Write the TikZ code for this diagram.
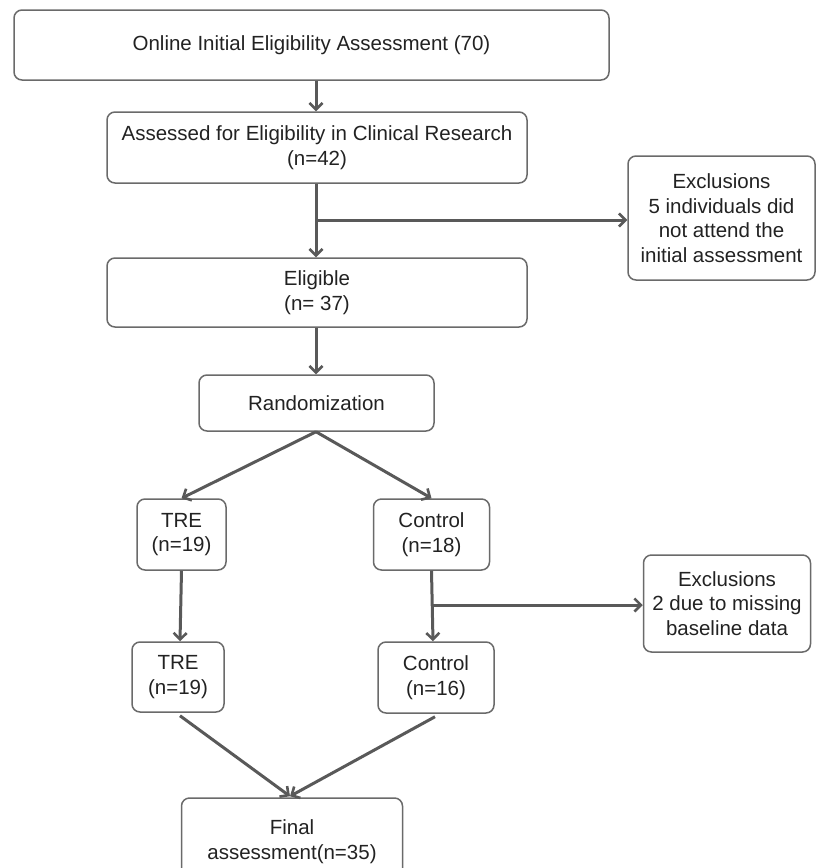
\documentclass[tikz,border=0pt]{standalone}
\usepackage{fontspec}
\setmainfont{Liberation Sans}
\usetikzlibrary{arrows.meta,calc}
\definecolor{linegray}{HTML}{595959}
\definecolor{boxgray}{HTML}{6A6A6A}
\definecolor{txt}{HTML}{222222}
\tikzset{
  box/.style={draw=boxgray, line width=1.5pt, rounded corners=8pt, inner sep=0pt,
    align=center, text=txt, font=\fontsize{20.5}{24.5}\selectfont},
  arr/.style={draw=linegray, line width=3pt, -{Straight Barb[length=6.5pt,width=13pt,line width=2.6pt]}}
}
\begin{document}
\begin{tikzpicture}[x=1pt,y=-1pt]
\useasboundingbox (0,0) rectangle (816,868);
\clip (0,0) rectangle (816,868);
\node[box, minimum width=595pt, minimum height=70pt] (top) at (311.5,45) {Online Initial Eligibility Assessment (70)};
\node[box, minimum width=420pt, minimum height=71pt] (assess) at (317,147.5) {Assessed for Eligibility in Clinical Research\\(n=42)};
\node[box, minimum width=187pt, minimum height=124pt] (excl1) at (721.5,218) {Exclusions\\5 individuals did\\not attend the\\initial assessment};
\node[box, minimum width=420pt, minimum height=69pt] (elig) at (317,292.5) {Eligible\\(n= 37)};
\node[box, minimum width=235pt, minimum height=56pt] (rand) at (316.5,403) {Randomization};
\node[box, minimum width=89pt, minimum height=71pt] (tre1) at (181.5,534.5) {TRE\\(n=19)};
\node[box, minimum width=116pt, minimum height=71pt] (ctl1) at (431.5,534.5) {Control\\(n=18)};
\node[box, minimum width=167pt, minimum height=97pt] (excl2) at (727,603.5) {Exclusions\\2 due to missing\\baseline data};
\node[box, minimum width=92pt, minimum height=70pt] (tre2) at (178,677) {TRE\\(n=19)};
\node[box, minimum width=116pt, minimum height=71pt] (ctl2) at (436,677.5) {Control\\(n=16)};
\node[box, minimum width=221pt, minimum height=80pt, text depth=0pt] (final) at (292,838) {\raisebox{12pt}{\begin{tabular}{@{}c@{}}Final\\[1pt]assessment(n=35)\end{tabular}}};
% connectors
\draw[arr] (top.south -| 316,0) -- (assess.north -| 316,0);
\draw[arr] (assess.south -| 316,0) -- (elig.north -| 316,0);
\coordinate (b1) at (316,220);
\draw[arr] (b1) -- (b1 -| excl1.west);
\draw[arr] (elig.south -| 316,0) -- (rand.north -| 316,0);
\draw[arr] (rand.south -| 316,0) -- (tre1.north);
\draw[arr] (rand.south -| 316,0) -- (ctl1.north);
\draw[arr] (tre1.south) -- (tre2.north -| 180,0);
\coordinate (b2) at (432,605);
\draw[arr] (ctl1.south) -- (ctl2.north -| 433,0);
\draw[arr] (b2) -- (b2 -| excl2.west);
\draw[arr] ($(tre2.south)+(2,3)$) -- ($(final.north)+(-2,-1)$);
\draw[arr] ($(ctl2.south)+(-1,3)$) -- ($(final.north)+(-2,-1)$);
\end{tikzpicture}
\end{document}
